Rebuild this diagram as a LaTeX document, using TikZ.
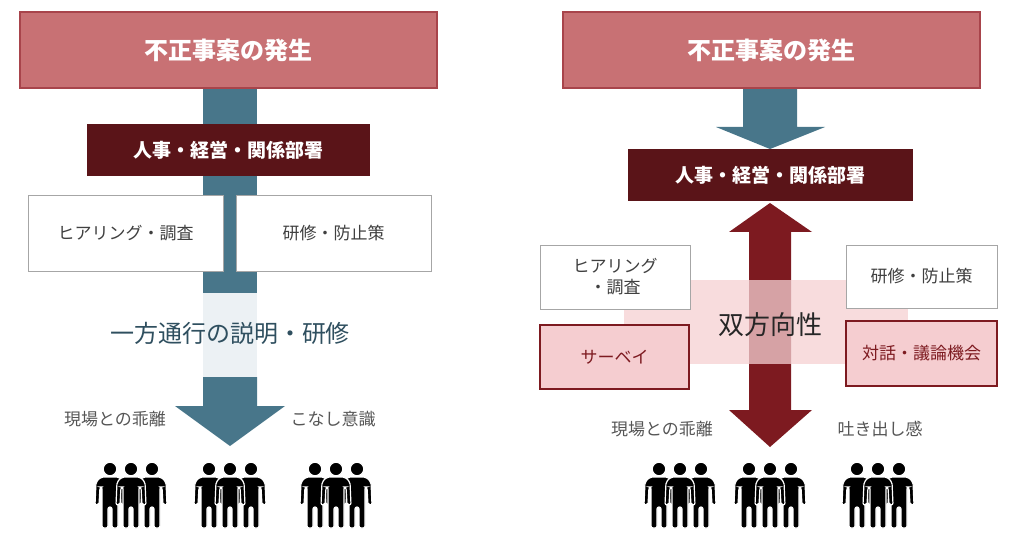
\documentclass[tikz,border=0pt]{standalone}
\usepackage{fontspec}
\usetikzlibrary{positioning}
\newfontfamily\jp{Noto Sans CJK JP}
\definecolor{topred}{HTML}{C87174}
\definecolor{topedge}{HTML}{A8444B}
\definecolor{darkbox}{HTML}{5A1418}
\definecolor{slate}{HTML}{48768A}
\definecolor{slatelight}{HTML}{ECF1F4}
\definecolor{slatetext}{HTML}{2F4F5F}
\definecolor{wine}{HTML}{7D1A20}
\definecolor{pinkband}{HTML}{F5D0D2}
\definecolor{pinkbox}{HTML}{F5CDD0}
\definecolor{graytext}{HTML}{555555}
\tikzset{
  topbox/.style={draw=topedge, line width=1.5pt, fill=topred, text=white,
    font=\jp\bfseries\fontsize{24}{26}\selectfont},
  deptbox/.style={fill=darkbox, text=white, font=\jp\bfseries\fontsize{19}{22}\selectfont},
  plainbox/.style={draw=gray!70, line width=0.8pt, fill=white, text=black!75,
    font=\jp\fontsize{17}{21}\selectfont, align=center},
  pinkbox/.style={draw=wine, line width=2pt, fill=pinkbox, text=wine,
    font=\jp\fontsize{17}{21}\selectfont},
  remark/.style={text=graytext, font=\jp\fontsize{17}{20}\selectfont},
  person/.pic={
    \fill[black, draw=white, line width=1.2pt] (0,7) circle (6.8);
    \fill[black, draw=white, line width=1.2pt, rounded corners=2pt]
      (-9,15) -- (9,15) -- (14,20) -- (15,43) -- (11,43) -- (10,25) -- (8,25)
      -- (8,66) -- (2,66) -- (2,45) -- (-2,45) -- (-2,66) -- (-8,66) -- (-8,25)
      -- (-10,25) -- (-11,43) -- (-15,43) -- (-14,20) -- cycle;
  },
  crowd/.pic={
    \pic at (-21,0) {person};
    \pic at (21,0) {person};
    \pic at (0,0) {person};
  }
}
\begin{document}
\begin{tikzpicture}[x=1pt, y=-1pt]
  \useasboundingbox (0,0) rectangle (1015,540);
  % Left: one-way
  \fill[slate] (203,88) rectangle (257,293);
  \fill[slatelight] (203,293) rectangle (257,377);
  \fill[slate] (203,377) -- (257,377) -- (257,406) -- (285,406) -- (230,446)
    -- (175,406) -- (203,406) -- cycle;
  \node[topbox, minimum width=417pt, minimum height=76pt] (lincident) at (228.5,50) {不正事案の発生};
  \node[deptbox, minimum width=283pt, minimum height=52pt] (ldept) at (228.5,150) {人事・経営・関係部署};
  \node[plainbox, minimum width=195pt, minimum height=76pt] (lhearing) at (125.5,233) {ヒアリング・調査};
  \node[plainbox, minimum width=195pt, minimum height=76pt] (ltraining) at (333.5,233) {研修・防止策};
  \node[text=slatetext, font=\jp\fontsize{24}{26}\selectfont] (oneway) at (230,333) {一方通行の説明・研修};
  \node[remark] (lgap) at (115,419) {現場との乖離};
  \node[remark] (routine) at (333,419) {こなし意識};
  \pic at (131,462) {crowd};
  \pic at (230,462) {crowd};
  \pic at (336,462) {crowd};
  % Right: two-way
  \fill[slate] (743,88) -- (797,88) -- (797,127) -- (825,127) -- (770,149)
    -- (716,127) -- (743,127) -- cycle;
  \fill[wine] (770,203) -- (812,232) -- (791,232) -- (791,410) -- (812,410)
    -- (770,447) -- (729,410) -- (749,410) -- (749,232) -- (729,232) -- cycle;
  \fill[pinkband, fill opacity=0.75] (624,280) rectangle (908,364);
  \node[topbox, minimum width=417pt, minimum height=76pt] (rincident) at (771.5,50) {不正事案の発生};
  \node[deptbox, minimum width=285pt, minimum height=52pt] (rdept) at (770.5,175.5) {人事・経営・関係部署};
  \node[plainbox, minimum width=150pt, minimum height=64pt] (rhearing) at (615,277) {ヒアリング\\・調査};
  \node[plainbox, minimum width=151pt, minimum height=63pt] (rtraining) at (921.5,276.5) {研修・防止策};
  \node[pinkbox, minimum width=149pt, minimum height=64pt] (survey) at (614.5,357) {サーベイ};
  \node[pinkbox, minimum width=151pt, minimum height=65pt] (dialogue) at (921.5,353.5) {対話・議論機会};
  \node[text=black!85, font=\jp\fontsize{26}{28}\selectfont] (twoway) at (770,325) {双方向性};
  \node[remark] (rgap) at (662,429) {現場との乖離};
  \node[remark] (venting) at (880,429) {吐き出し感};
  \pic at (680,462) {crowd};
  \pic at (770,462) {crowd};
  \pic at (878,462) {crowd};
\end{tikzpicture}
\end{document}
